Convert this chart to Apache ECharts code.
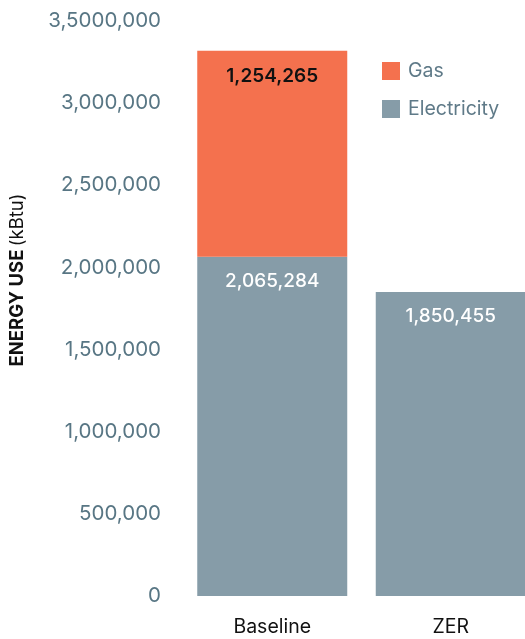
<!DOCTYPE html>
<html>
<head>
<meta charset="utf-8">
<script src="https://cdn.jsdelivr.net/npm/echarts@6/dist/echarts.min.js"></script>
<style>html,body{margin:0;padding:0;background:#fff}#c{width:525px;height:639px}</style>
</head>
<body>
<div id="c"></div>
<script>
var categories = ['Baseline', 'ZER'];
var electricity = [2065284, 1850455];
var gas = [1254265, null];
var yTickLabels = ['0', '500,000', '1,000,000', '1,500,000', '2,000,000', '2,500,000', '3,000,000', '3,5000,000'];
var yAxisTitleBold = 'ENERGY USE';
var yAxisTitleUnit = '(kBtu)';

var FONT = 'Inter';
var chart = echarts.init(document.getElementById('c'));
function fmt(v) { return v.toString().replace(/\B(?=(\d{3})+(?!\d))/g, ','); }
chart.setOption({
  animation: false,
  grid: { left: 183, top: 21, bottom: 43, width: 357, outerBoundsMode: 'none', containLabel: false },
  legend: {
    orient: 'vertical', left: 377, top: 56,
    itemWidth: 18, itemHeight: 18, itemGap: 18, icon: 'rect',
    data: ['Gas', 'Electricity'],
    textStyle: { fontFamily: FONT, fontSize: 19.5, color: '#5f7a88', padding: [0, 0, 0, 3] }
  },
  graphic: [{
    type: 'text', x: 17, y: 280, rotation: Math.PI / 2,
    style: {
      text: '{b|' + yAxisTitleBold + '} {n|' + yAxisTitleUnit + '}',
      align: 'center', verticalAlign: 'middle',
      rich: {
        b: { fontFamily: FONT, fontSize: 18.5, fontWeight: 'bold', fill: '#111' },
        n: { fontFamily: FONT, fontSize: 18.5, fill: '#111' }
      }
    }
  }],
  xAxis: {
    type: 'category', data: categories,
    axisLine: { show: false }, axisTick: { show: false },
    axisLabel: { fontFamily: FONT, fontSize: 19.5, color: '#111', margin: 21 }
  },
  yAxis: {
    type: 'value', min: 0, max: 3500000, interval: 500000,
    splitLine: { show: false }, axisLine: { show: false }, axisTick: { show: false },
    axisLabel: {
      fontFamily: FONT, fontSize: 20.5, color: '#587684', margin: 22,
      formatter: function (v) { return yTickLabels[Math.round(v / 500000)]; }
    }
  },
  series: [
    {
      name: 'Electricity', type: 'bar', stack: 'e', data: electricity, barWidth: 150,
      itemStyle: { color: '#869ca8' },
      label: { show: true, position: 'insideTop', distance: 15, fontFamily: FONT, fontSize: 19, fontWeight: 500, color: '#fff',
        formatter: function (p) { return fmt(p.value); } }
    },
    {
      name: 'Gas', type: 'bar', stack: 'e', data: gas, barWidth: 150,
      itemStyle: { color: '#f4714e' },
      label: { show: true, position: 'insideTop', distance: 16, fontFamily: FONT, fontSize: 19, fontWeight: 600, color: '#111',
        formatter: function (p) { return fmt(p.value); } }
    }
  ]
});
</script>
</body>
</html>
